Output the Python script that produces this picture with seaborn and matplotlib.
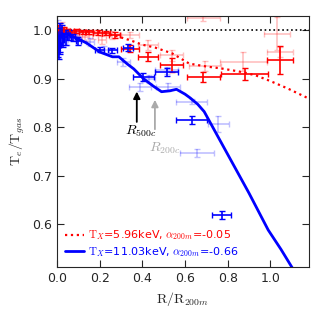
import numpy as np
import pandas as pd
import matplotlib
matplotlib.use("Agg")
import matplotlib.pyplot as plt
import seaborn as sns

# model curves
red_line_x = [0.0, 0.05, 0.1, 0.2, 0.26, 0.3, 0.35, 0.4, 0.46, 0.54, 0.62, 0.7, 0.77, 0.85, 0.93, 1.0, 1.08, 1.18]
red_line_y = [1.0, 0.999, 0.998, 0.996, 0.99, 0.985, 0.978, 0.97, 0.964, 0.952, 0.931, 0.925, 0.921, 0.915, 0.907, 0.895, 0.88, 0.859]

blue_line_x = [0.0, 0.005, 0.015, 0.03, 0.045, 0.07, 0.1, 0.14, 0.2, 0.26, 0.29, 0.33, 0.36, 0.405, 0.45,
               0.49, 0.53, 0.56, 0.6, 0.625, 0.66, 0.69, 0.72, 0.79, 0.84, 0.9, 0.99, 1.05, 1.10, 1.12]
blue_line_y = [0.965, 0.975, 0.985, 0.99, 0.993, 0.987, 0.982, 0.973, 0.955, 0.945, 0.945, 0.93, 0.92, 0.90, 0.885,
               0.873, 0.875, 0.878, 0.868, 0.86, 0.847, 0.832, 0.808, 0.752, 0.712, 0.664, 0.588, 0.548, 0.512, 0.498]

# binned points, dark red
red_x = [0.01, 0.02, 0.035, 0.05, 0.07, 0.09, 0.12, 0.15, 0.19, 0.23, 0.27, 0.342, 0.428, 0.537, 0.686, 0.881, 1.045]
red_y = [1.0, 0.995, 1.0, 0.998, 0.997, 0.998, 0.997, 0.996, 0.995, 0.994, 0.99, 0.962, 0.945, 0.928, 0.904, 0.909, 0.938]
red_xerr = [0.005, 0.006, 0.008, 0.01, 0.01, 0.012, 0.015, 0.018, 0.02, 0.02, 0.025, 0.043, 0.047, 0.053, 0.076, 0.11, 0.061]
red_yerr = [0.01, 0.008, 0.006, 0.005, 0.004, 0.004, 0.004, 0.004, 0.005, 0.005, 0.006, 0.007, 0.009, 0.014, 0.01, 0.012, 0.029]

# pale red
red2_x = [0.01, 0.025, 0.045, 0.07, 0.1, 0.13, 0.17, 0.21, 0.26, 0.342, 0.428, 0.537, 0.686, 0.694, 0.873, 1.03, 1.045]
red2_y = [0.99, 1.005, 0.995, 0.99, 0.995, 0.985, 0.99, 0.98, 0.99, 0.99, 0.969, 0.948, 1.024, 0.926, 0.935, 0.993, 0.955]
red2_xerr = [0.005, 0.007, 0.01, 0.012, 0.015, 0.015, 0.02, 0.02, 0.03, 0.043, 0.047, 0.053, 0.077, 0.077, 0.11, 0.061, 0.061]
red2_yerr = [0.015, 0.012, 0.01, 0.01, 0.008, 0.008, 0.008, 0.008, 0.008, 0.006, 0.01, 0.012, 0.005, 0.01, 0.02, 0.034, 0.01]

# dark blue
blue_x = [0.004, 0.008, 0.012, 0.016, 0.022, 0.03, 0.04, 0.055, 0.075, 0.1, 0.2, 0.26, 0.334, 0.405, 0.514, 0.631, 0.772]
blue_y = [0.975, 0.965, 0.985, 0.97, 0.99, 0.98, 0.985, 0.99, 0.985, 0.978, 0.96, 0.958, 0.964, 0.904, 0.914, 0.814, 0.619]
blue_xerr = [0.002, 0.002, 0.002, 0.003, 0.003, 0.004, 0.005, 0.007, 0.01, 0.012, 0.02, 0.02, 0.023, 0.05, 0.055, 0.074, 0.045]
blue_yerr = [0.03, 0.025, 0.03, 0.02, 0.02, 0.015, 0.015, 0.01, 0.008, 0.008, 0.006, 0.006, 0.008, 0.008, 0.008, 0.008, 0.008]

# pale blue
blue2_x = [0.006, 0.012, 0.02, 0.03, 0.045, 0.065, 0.092, 0.155, 0.22, 0.311, 0.389, 0.43, 0.514, 0.52, 0.631, 0.655, 0.756]
blue2_y = [0.99, 0.975, 0.995, 0.985, 0.98, 0.99, 0.986, 0.976, 0.96, 0.935, 0.883, 0.90, 0.917, 0.883, 0.852, 0.747, 0.806]
blue2_xerr = [0.003, 0.003, 0.004, 0.005, 0.006, 0.01, 0.012, 0.02, 0.025, 0.03, 0.05, 0.03, 0.055, 0.055, 0.074, 0.08, 0.05]
blue2_yerr = [0.03, 0.02, 0.02, 0.015, 0.01, 0.01, 0.008, 0.008, 0.008, 0.008, 0.008, 0.008, 0.008, 0.008, 0.005, 0.008, 0.016]

red_label = r"$\mathrm{T}_X$=5.96keV, $\alpha_{200m}$=-0.05"
blue_label = r"$\mathrm{T}_X$=11.03keV, $\alpha_{200m}$=-0.66"

sns.set_style("ticks")
plt.rcParams["mathtext.fontset"] = "cm"
plt.rcParams["xtick.direction"] = "in"
plt.rcParams["ytick.direction"] = "in"
plt.rcParams["xtick.top"] = True
plt.rcParams["ytick.right"] = True

fig = plt.figure(figsize=(3.15, 3.15), dpi=100)
ax = fig.add_axes([0.181, 0.153, 0.799, 0.796])

ax.axhline(1.0, color="k", ls=":", lw=1.2)

# pale points first
ax.errorbar(red2_x, red2_y, xerr=red2_xerr, yerr=red2_yerr, fmt="none",
            ecolor="red", alpha=0.25, elinewidth=1.2, capsize=2)
ax.errorbar(blue2_x, blue2_y, xerr=blue2_xerr, yerr=blue2_yerr, fmt="none",
            ecolor="blue", alpha=0.25, elinewidth=1.2, capsize=2)
ax.errorbar(red_x, red_y, xerr=red_xerr, yerr=red_yerr, fmt="none",
            ecolor="red", elinewidth=1.2, capsize=2)
ax.errorbar(blue_x, blue_y, xerr=blue_xerr, yerr=blue_yerr, fmt="none",
            ecolor="blue", elinewidth=1.2, capsize=2)

red_df = pd.DataFrame({"x": red_line_x, "y": red_line_y})
blue_df = pd.DataFrame({"x": blue_line_x, "y": blue_line_y})
sns.lineplot(data=red_df, x="x", y="y", ax=ax, color="red", ls=":", lw=1.6,
             sort=False, label=red_label)
sns.lineplot(data=blue_df, x="x", y="y", ax=ax, color="blue", lw=2,
             sort=False, label=blue_label)

# radius markers
ax.annotate("", xy=(0.374, 0.879), xytext=(0.374, 0.805),
            arrowprops=dict(arrowstyle="-|>", color="k", lw=1.3, mutation_scale=10))
ax.text(0.393, 0.791, r"$R_{500c}$", color="k", fontsize=10, ha="center", va="center")
ax.annotate("", xy=(0.459, 0.862), xytext=(0.459, 0.79),
            arrowprops=dict(arrowstyle="-|>", color="#aaaaaa", lw=1.3, mutation_scale=10))
ax.text(0.505, 0.756, r"$R_{200c}$", color="#aaaaaa", fontsize=10, ha="center", va="center")

ax.set_xlim(0, 1.18)
ax.set_ylim(0.512, 1.029)
ax.set_xticks([0.0, 0.2, 0.4, 0.6, 0.8, 1.0])
ax.set_yticks([0.6, 0.7, 0.8, 0.9, 1.0])
ax.tick_params(labelsize=9, length=5)
ax.set_xlabel(r"$\mathrm{R/R}_{200m}$", fontsize=10)
ax.set_ylabel(r"$\mathrm{T}_e/\mathrm{T}_{gas}$", fontsize=10)

leg = ax.legend(loc="lower left", frameon=False, fontsize=8, handlelength=1.7,
                borderaxespad=0.3, labelspacing=0.25, handletextpad=0.4, labelcolor="linecolor")

fig.savefig("out.png", dpi=100)
